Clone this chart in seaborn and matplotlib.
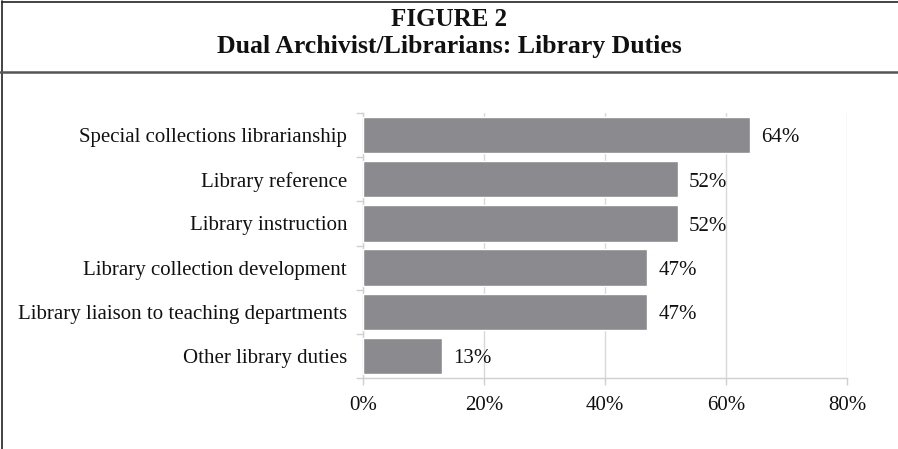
import matplotlib
matplotlib.use("Agg")
import matplotlib.pyplot as plt
import seaborn as sns
import pandas as pd
from matplotlib.ticker import FixedLocator, FuncFormatter
from matplotlib.lines import Line2D

categories = [
    "Special collections librarianship",
    "Library reference",
    "Library instruction",
    "Library collection development",
    "Library liaison to teaching departments",
    "Other library duties",
]
values = [64, 52, 52, 47, 47, 13]
x_ticks = [0, 20, 40, 60, 80]
title_line1 = "FIGURE 2"
title_line2 = "Dual Archivist/Librarians: Library Duties"

df = pd.DataFrame({"category": categories, "value": values})

sns.set_theme(style="white")
plt.rcParams["font.family"] = ["Liberation Serif", "DejaVu Serif"]

W, H = 898, 449
fig = plt.figure(figsize=(W / 100, H / 100), dpi=100)
ax = fig.add_axes([363 / W, 1 - 378 / H, (847 - 363) / W, (378 - 113) / H])

bar_color = "#8b8b8f"
sns.barplot(data=df, x="value", y="category", orient="h", color=bar_color,
            width=0.82, saturation=1, ax=ax, zorder=3)

ax.set_xlim(0, 80)
ax.set_ylim(len(categories) - 0.5, -0.5)
ax.set_xticks(x_ticks)
ax.xaxis.set_major_formatter(FuncFormatter(lambda v, p: f"{v:.0f}%"))
ax.grid(axis="x", color="#d9d9d9", linewidth=1, zorder=0)
ax.grid(axis="y", visible=False)
ax.set_xlabel("")
ax.set_ylabel("")

for s in ["top", "right"]:
    ax.spines[s].set_visible(False)
for s in ["left", "bottom"]:
    ax.spines[s].set_color("#d0d0d0")
    ax.spines[s].set_linewidth(1)

ax.tick_params(axis="x", which="major", length=5, color="#d0d0d0", width=1,
               labelsize=15, pad=8, labelcolor="#111111", bottom=True)
ax.tick_params(axis="y", which="major", length=0, labelsize=15, pad=11.5,
               labelcolor="#111111", left=False)
ax.yaxis.set_minor_locator(FixedLocator([i - 0.5 for i in range(len(categories) + 1)]))
ax.tick_params(axis="y", which="minor", length=5, color="#d0d0d0", width=1, left=True)

for cont in ax.containers:
    anns = ax.bar_label(cont, labels=[f"{v}%" for v in values], padding=8,
                        fontsize=15, color="#111111")
    for a in anns:
        a.xyann = (8, -2)

# Frame lines
fig.add_artist(Line2D([1.5 / W, 1.5 / W], [0, 1 - 1 / H], color="#222222", lw=1.2))
fig.add_artist(Line2D([1.5 / W, 1], [1 - 1.5 / H, 1 - 1.5 / H], color="#222222", lw=1.2))
fig.add_artist(Line2D([0, 1], [1 - 72 / H, 1 - 72 / H], color="#555555", lw=1.8))

fig.text(0.5, 1 - 19 / H, title_line1, ha="center", va="center",
         fontsize=18, fontweight="bold", color="#111111")
fig.text(0.5, 1 - 47 / H, title_line2, ha="center", va="center",
         fontsize=18.5, fontweight="bold", color="#111111")

fig.savefig("out.png", dpi=100, facecolor="white")
